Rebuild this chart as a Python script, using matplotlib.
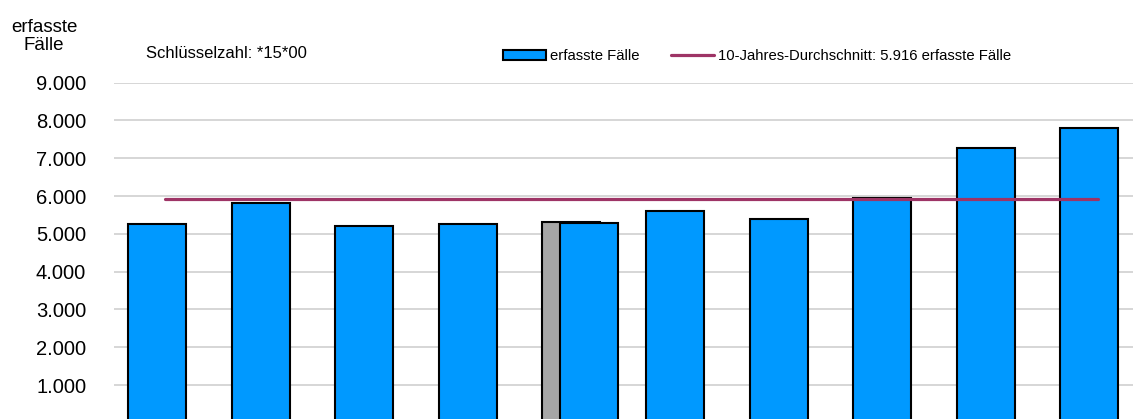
import numpy as np
import matplotlib.pyplot as plt

plt.rcParams['font.family'] = ['Liberation Sans', 'DejaVu Sans']

# Werte
faelle = [5270, 5820, 5200, 5260, 5290, 5600, 5385, 5950, 7260, 7810]
grau_pos = 4
grau_wert = 5320
durchschnitt = 5916
yticks = [1000, 2000, 3000, 4000, 5000, 6000, 7000, 8000, 9000]
ytick_labels = ['1.000', '2.000', '3.000', '4.000', '5.000', '6.000', '7.000', '8.000', '9.000']

blau = '#0099FF'
linie = '#9E3466'

fig = plt.figure(figsize=(11.34, 4.19), dpi=100)
ax = fig.add_axes([0.1005, -0.0091, 0.8986, 0.8117])

x = np.arange(len(faelle), dtype=float)
x_blau = x.copy()
x_blau[grau_pos] += 0.17

ax.bar(grau_pos, grau_wert, width=0.56, color='#A6A6A6', edgecolor='black', linewidth=1.5, zorder=2)
balken = ax.bar(x_blau, faelle, width=0.56, color=blau, edgecolor='black', linewidth=1.5, zorder=3,
                label='erfasste Fälle')
lin, = ax.plot(x + 0.08, [durchschnitt] * len(x), color=linie, linewidth=2.3, zorder=4,
               solid_capstyle='round', label='10-Jahres-Durchschnitt: 5.916 erfasste Fälle')

ax.set_xlim(-0.415, 9.42)
ax.set_ylim(0, 9000)
ax.set_yticks(yticks)
ax.set_yticklabels(ytick_labels, fontsize=14.5)
ax.set_xticks([])
ax.tick_params(axis='y', length=0, pad=20)
ax.grid(axis='y', color='#D0D0D0', linewidth=1.2, zorder=0)
ax.set_axisbelow(True)
for s in ax.spines.values():
    s.set_visible(False)

fig.text(0.0388, 0.955, 'erfasste\nFälle', ha='center', va='top', fontsize=13.5, linespacing=1.05)
fig.text(0.129, 0.855, 'Schlüsselzahl: *15*00', ha='left', va='bottom', fontsize=12)

leg = fig.legend(handles=[balken, lin], loc='center left', bbox_to_anchor=(0.4436, 0.866), ncol=2,
                 frameon=False, fontsize=10.75, handlelength=2.85, handleheight=0.6,
                 handletextpad=0.27, columnspacing=2.15, borderaxespad=0, borderpad=0)

fig.savefig('out.png', dpi=100)
